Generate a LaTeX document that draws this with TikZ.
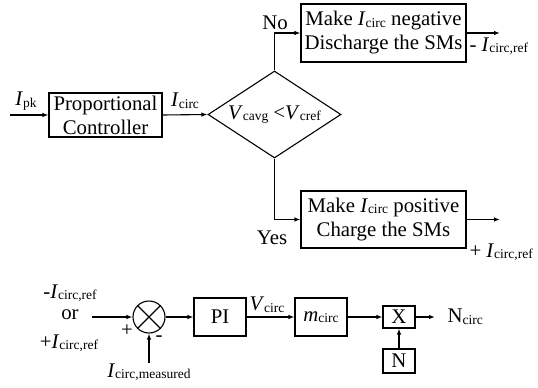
\documentclass[tikz,border=0pt]{standalone}
\usepackage{fontspec}
\setmainfont{Liberation Serif}
\usetikzlibrary{arrows.meta,shapes.geometric}
% small upright subscript, set close to the baseline
\newcommand\sbs[1]{\raisebox{-1.5pt}{\fontsize{13.5}{14}\selectfont #1}}
\newcommand\vi[2]{\textit{#1}\sbs{#2}}
\begin{document}
\begin{tikzpicture}[x=1pt,y=-1pt,
  font=\fontsize{20.8}{24}\selectfont,
  line width=1.1pt,
  >={Latex[length=6pt,width=4.5pt]},
  block/.style={draw, inner sep=0pt, align=center},
  lbl/.style={inner sep=0pt}]
\useasboundingbox (0,0) rectangle (538,388);

% ---- decision flow ----
\node[block, minimum width=113, minimum height=44] (pc) at (105.5,115) {Proportional\\Controller};
\node[draw, diamond, minimum width=133, minimum height=87, inner sep=0pt,
      label={[lbl]center:\vi{V}{cavg} <\vi{V}{cref}}] (dec) at (274.5,114.5) {};
\node[block, minimum width=165, minimum height=58] (neg) at (383.5,33) {Make \vi{I}{circ} negative\\Discharge the SMs};
\node[block, minimum width=165, minimum height=57] (pos) at (383.5,219.5) {Make \vi{I}{circ} positive\\Charge the SMs};

\coordinate (pkin) at (10,115);
\coordinate (negout) at (500,33);
\coordinate (posout) at (500,219.5);

\draw[->] (pkin) -- (pc.west);
\draw[->] (pc.east) -- (dec.west);
\draw[->] (dec.north) |- (neg.west);
\draw[->] (dec.south) |- (pos.west);
\draw[->] (neg.east) -- (negout);
\draw[->] (pos.east) -- (posout);

\node[lbl] (ipk) at (26,101) {\vi{I}{pk}};
\node[lbl] (icirc) at (185,101) {\vi{I}{circ}};
\node[lbl] (no) at (275,23) {No};
\node[lbl] (yes) at (272,238) {Yes};
\node[lbl, anchor=west] (negref) at (469,46) {- \vi{I}{circ,ref}};
\node[lbl, anchor=west] (posref) at (469,252) {+ \vi{I}{circ,ref}};

% ---- control loop ----
\node[draw, circle, minimum size=32, inner sep=0pt] (sum) at (149,317) {};
\draw (sum.north west) -- (sum.south east) (sum.north east) -- (sum.south west);
\node[block, minimum width=52, minimum height=38] (pi) at (220,317) {PI};
\node[block, minimum width=52, minimum height=38] (m) at (321,317) {\textit{m}\sbs{circ}};
\node[block, minimum width=32, minimum height=22] (x) at (399,317) {X};
\node[block, minimum width=32, minimum height=24] (n) at (399,361) {N};

\coordinate (refin) at (92,317);
\node[lbl] (refneg) at (70,293) {-\vi{I}{circ,ref}};
\node[lbl] (or) at (70,315) {or};
\node[lbl] (refpos) at (69,343) {+\vi{I}{circ,ref}};
\node[lbl] (plus) at (127,331) {+};
\node[lbl] (minus) at (159,339) {-};
\node[lbl] (meas) at (149,372) {\vi{I}{circ,measured}};
\node[lbl] (vcirc) at (267,305) {\vi{V}{circ}};
\node[lbl, anchor=west] (ncirc) at (447,317) {N\sbs{circ}};

\draw[->] (refin) -- (sum.west);
\draw[->] (meas.north) -- (sum.south);
\draw[->] (sum.east) -- (pi.west);
\draw[->] (pi.east) -- (m.west);
\draw[->] (m.east) -- (x.west);
\draw[->, shorten >=12pt] (x.east) -- (ncirc.west);
\draw[->] (n.north) -- (x.south);
\end{tikzpicture}
\end{document}
